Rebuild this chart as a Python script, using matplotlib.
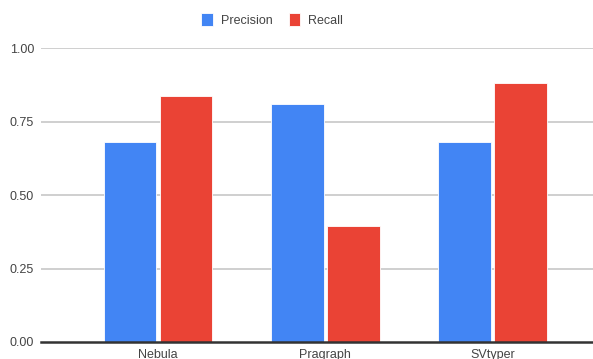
import numpy as np
import matplotlib.pyplot as plt

tools = ['Nebula', 'Pragraph', 'SVtyper']
precision = [0.68, 0.81, 0.68]
recall = [0.837, 0.393, 0.882]
y_ticks = [0.0, 0.25, 0.5, 0.75, 1.0]
y_labels = ['0.00', '0.25', '0.50', '0.75', '1.00']

BLUE = '#4285F4'
RED = '#EA4335'
TEXT = '#444444'

plt.rcParams['font.family'] = ['Liberation Sans', 'DejaVu Sans']

fig = plt.figure(figsize=(5.93, 3.59), dpi=100)
ax = fig.add_axes([41 / 593, 17 / 359, 552 / 593, 294 / 359])

x = np.arange(len(tools))
w = 0.315
ax.bar(x - w / 2 - 0.01, precision, w, color=BLUE, edgecolor='white',
       linewidth=0.6, label='Precision', zorder=3)
ax.bar(x + w / 2 + 0.01, recall, w, color=RED, edgecolor='white',
       linewidth=0.6, label='Recall', zorder=3)

ax.set_xlim(-0.70, 2.60)
ax.set_ylim(0, 1)
ax.set_yticks(y_ticks)
ax.set_yticklabels(y_labels)
ax.set_xticks(x)
ax.set_xticklabels(tools)
ax.tick_params(axis='both', length=0, labelsize=9, colors=TEXT)
ax.tick_params(axis='y', pad=5)
ax.tick_params(axis='x', pad=5)

for v in y_ticks[1:]:
    ax.axhline(v, color='#cccccc', linewidth=1.3, zorder=1)
ax.axhline(0, color='#333333', linewidth=1.8, zorder=4, clip_on=False)

for side in ['top', 'right', 'left', 'bottom']:
    ax.spines[side].set_visible(False)

leg = fig.legend(loc='center', bbox_to_anchor=(272 / 593, 1 - 20 / 359),
                 ncol=2, frameon=False, fontsize=9, handlelength=0.95,
                 handleheight=1.2, handletextpad=0.6, columnspacing=1.3)
for t in leg.get_texts():
    t.set_color(TEXT)

fig.savefig('out.png', dpi=100)
